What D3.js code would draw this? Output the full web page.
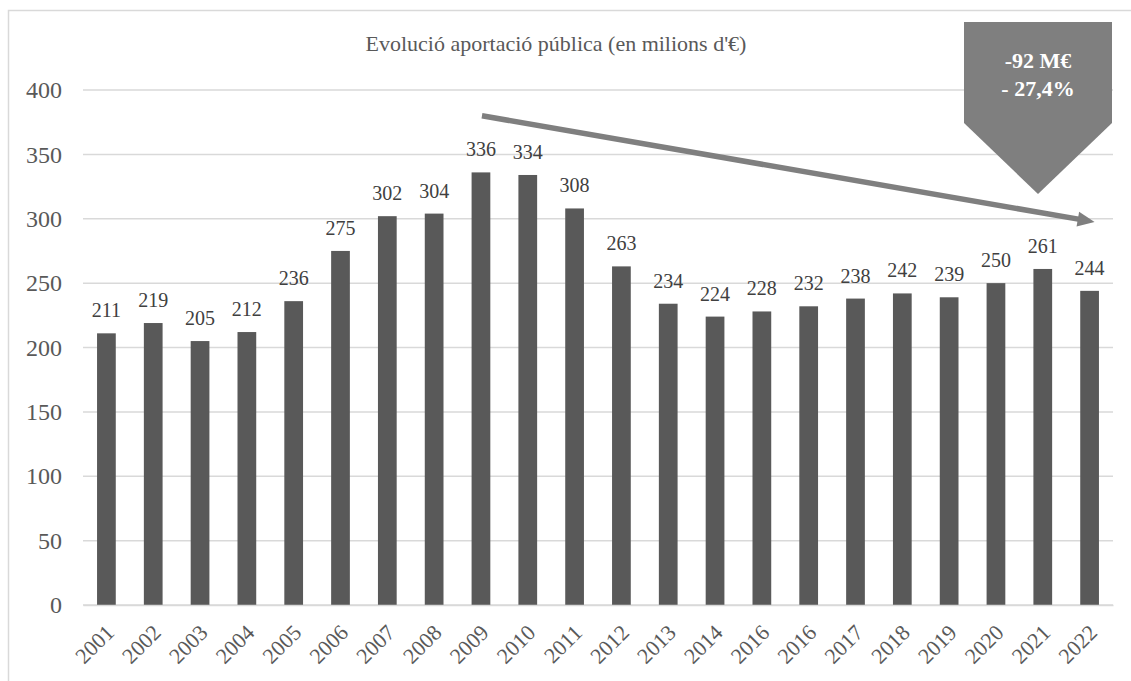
<!DOCTYPE html>
<html>
<head>
<meta charset="utf-8">
<script src="https://cdn.jsdelivr.net/npm/d3@7"></script>
<style>
  html, body { margin: 0; padding: 0; background: #fff; }
  svg { display: block; }
  text { font-family: "Liberation Serif", "Times New Roman", serif; }
</style>
</head>
<body>
<svg id="chart" width="1131" height="681"></svg>
<script>
// Public contribution per year, millions of euros
const years = ["2001","2002","2003","2004","2005","2006","2007","2008","2009","2010","2011",
               "2012","2013","2014","2016","2016","2017","2018","2019","2020","2021","2022"];
const values = [211,219,205,212,236,275,302,304,336,334,308,263,234,224,228,232,238,242,239,250,261,244];
const yTicks = [0,50,100,150,200,250,300,350,400];
const title = "Evolució aportació pública (en milions d'€)";
const calloutLines = ["-92 M€", "- 27,4%"];

const svg = d3.select("#chart");
const textColor = "#595959";
const gridColor = "#d9d9d9";

// outer frame
svg.append("rect")
  .attr("x", 8.5).attr("y", 10.5)
  .attr("width", 1200).attr("height", 700)
  .attr("fill", "none").attr("stroke", gridColor).attr("stroke-width", 1.5);

const plot = { left: 83, right: 1113, top: 90, bottom: 605 };

const x = d3.scaleBand()
  .domain(d3.range(values.length))
  .range([plot.left, plot.right])
  .paddingInner(0.6)
  .paddingOuter(0.3);

const y = d3.scaleLinear().domain([0, 400]).range([plot.bottom, plot.top]);

// horizontal gridlines
svg.append("g").selectAll("line").data(yTicks).join("line")
  .attr("x1", plot.left).attr("x2", plot.right)
  .attr("y1", d => y(d)).attr("y2", d => y(d))
  .attr("stroke", gridColor).attr("stroke-width", 1.5);

// y axis labels
const yAxis = d3.axisLeft(y).tickValues(yTicks).tickSize(0).tickPadding(0);
const gy = svg.append("g").attr("transform", `translate(62,0)`).call(yAxis);
gy.select(".domain").remove();
gy.selectAll("text")
  .attr("fill", textColor)
  .style("font-family", '"Liberation Serif", serif')
  .style("font-size", "24px");

// bars
svg.append("g").selectAll("rect").data(values).join("rect")
  .attr("x", (d, i) => x(i))
  .attr("y", d => y(d))
  .attr("width", x.bandwidth())
  .attr("height", d => y(0) - y(d))
  .attr("fill", "#595959");

// value labels
svg.append("g").selectAll("text").data(values).join("text")
  .attr("x", (d, i) => x(i) + x.bandwidth() / 2)
  .attr("y", d => y(d) - 16)
  .attr("text-anchor", "middle")
  .attr("fill", "#404040")
  .style("font-size", "20px")
  .text(d => d);

// x axis labels, rotated
const xAxis = d3.axisBottom(x).tickSize(0).tickFormat(i => years[i]);
const gx = svg.append("g").attr("transform", `translate(0,${plot.bottom})`).call(xAxis);
gx.select(".domain").attr("stroke", gridColor).attr("stroke-width", 1.5);
gx.selectAll(".tick text")
  .attr("fill", textColor)
  .attr("text-anchor", "end")
  .attr("dy", 0)
  .attr("y", 0)
  .attr("transform", "translate(9,29) rotate(-45)")
  .style("font-family", '"Liberation Serif", serif')
  .style("font-size", "22px");

// title
svg.append("text")
  .attr("x", 556).attr("y", 51)
  .attr("text-anchor", "middle")
  .attr("fill", textColor)
  .style("font-size", "22px")
  .text(title);

// trend arrow from the 2009 peak towards 2022
const ax1 = x(8) + x.bandwidth() / 2 + 1, ay1 = y(380);
const ax2 = x(21) + x.bandwidth() / 2 + 5, ay2 = y(297.5);
const ang = Math.atan2(ay2 - ay1, ax2 - ax1);
const headLen = 17, headHalf = 7.5;
const bx = ax2 - headLen * Math.cos(ang), by = ay2 - headLen * Math.sin(ang);
const arrowColor = "#7f7f7f";
svg.append("line")
  .attr("x1", ax1).attr("y1", ay1).attr("x2", bx + 2 * Math.cos(ang)).attr("y2", by + 2 * Math.sin(ang))
  .attr("stroke", arrowColor).attr("stroke-width", 5.5);
svg.append("polygon")
  .attr("points", [
    [ax2, ay2],
    [bx + headHalf * Math.sin(ang), by - headHalf * Math.cos(ang)],
    [bx - headHalf * Math.sin(ang), by + headHalf * Math.cos(ang)]
  ].map(p => p.join(",")).join(" "))
  .attr("fill", arrowColor);

// callout pointing down
const cb = { left: 964, right: 1112, top: 22, shoulder: 123, tip: 194 };
const cmid = (cb.left + cb.right) / 2;
svg.append("polygon")
  .attr("points", [
    [cb.left, cb.top], [cb.right, cb.top], [cb.right, cb.shoulder],
    [cmid, cb.tip], [cb.left, cb.shoulder]
  ].map(p => p.join(",")).join(" "))
  .attr("fill", "#7f7f7f");
svg.append("g").selectAll("text").data(calloutLines).join("text")
  .attr("x", cmid)
  .attr("y", (d, i) => 68 + i * 28)
  .attr("text-anchor", "middle")
  .attr("fill", "#ffffff")
  .style("font-size", "22px")
  .style("font-weight", "bold")
  .text(d => d);
</script>
</body>
</html>
